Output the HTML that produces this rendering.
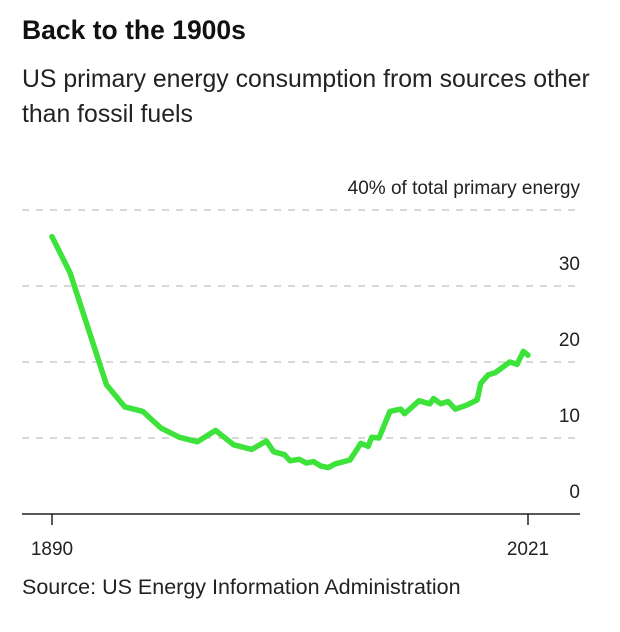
<!DOCTYPE html>
<html><head><meta charset="utf-8"><style>
body{margin:0;background:#fff;font-family:"Liberation Sans",sans-serif;}
svg text{font-family:"Liberation Sans",sans-serif;}
</style></head><body>
<svg width="620" height="627">
<text x="22" y="39" font-size="26.5" font-weight="bold" fill="#111">Back to the 1900s</text>
<text x="22" y="87" font-size="24.8" fill="#222">US primary energy consumption from sources other</text>
<text x="22" y="122" font-size="24.8" fill="#222">than fossil fuels</text>
<g id="grid"></g>
<g id="marks"></g>
<text x="22" y="594" font-size="21.5" fill="#222">Source: US Energy Information Administration</text>
</svg>
<script>
const years=[1890,1895,1905,1910,1915,1920,1925,1930,1935,1940,1945,1949,1951,1954,1955.5,1958,1960,1962,1964,1966,1968,1972,1975,1977,1978,1980,1983,1986,1987,1991,1994,1995,1997,1999,2001,2004,2007,2008,2010,2012,2016,2018,2019.7,2021];
const values=[36.5,31.7,17.0,14.1,13.5,11.3,10.1,9.5,11.0,9.1,8.5,9.6,8.2,7.8,7.0,7.2,6.7,6.9,6.3,6.1,6.6,7.1,9.3,8.9,10.1,10.0,13.5,13.8,13.2,14.9,14.5,15.2,14.5,14.8,13.8,14.3,15.0,17.2,18.3,18.6,20.0,19.7,21.4,20.9];
const yTicks=[0,10,20,30,40];
const yTickLabels=["0","10","20","30","40% of total primary energy"];
const xTicks=[1890,2021];
const NS="http://www.w3.org/2000/svg";
const x=v=>52+(v-1890)*(476/131);
const y=v=>514-v*7.6;
const grid=document.getElementById('grid'),marks=document.getElementById('marks');
function mk(tag,attrs,parent){const e=document.createElementNS(NS,tag);for(const k in attrs)e.setAttribute(k,attrs[k]);parent.appendChild(e);return e;}
yTicks.forEach((t,i)=>{
  if(t>0){const l=mk('line',{x1:22,x2:580,y1:y(t),y2:y(t),stroke:'#ccc','stroke-width':1.5,'stroke-dasharray':'7,7'},grid);
  
  }
  const tx=mk('text',{x:580,y:y(t)-16,'text-anchor':'end','font-size':19,fill:'#222'},grid);
  tx.textContent=yTickLabels[i];
  
  
});
const ax=mk('line',{x1:22,x2:580,y1:514,y2:514,stroke:'#222','stroke-width':1.5},grid);


xTicks.forEach(t=>{
  const tk=mk('line',{x1:x(t),x2:x(t),y1:514,y2:525,stroke:'#222','stroke-width':1.5},grid);
  
  
  const tx=mk('text',{x:x(t),y:555,'text-anchor':'middle','font-size':19,fill:'#222'},grid);
  tx.textContent=t;
  
  
});
const d=years.map((yr,i)=>(i?'L':'M')+x(yr).toFixed(1)+','+y(values[i]).toFixed(1)).join('');
const p=mk('path',{d:d,fill:'none',stroke:'#3de33a','stroke-width':5.5,'stroke-linejoin':'round','stroke-linecap':'round'},marks);


</script>
</body></html>
